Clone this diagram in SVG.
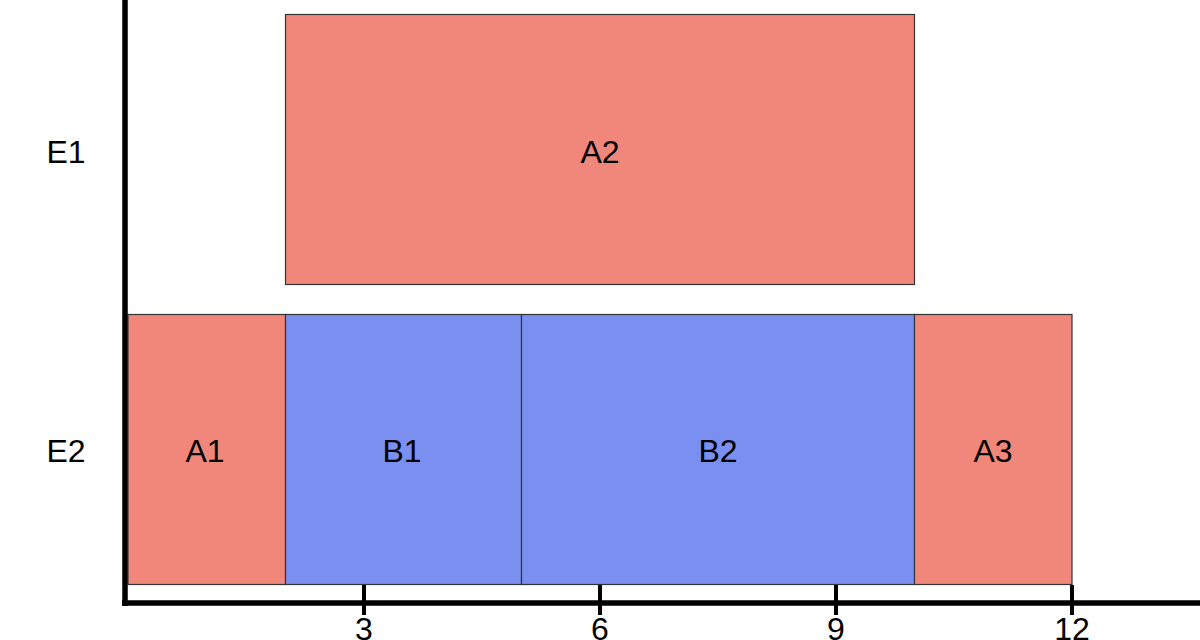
<svg xmlns="http://www.w3.org/2000/svg" width="1200" height="640" viewBox="0 0 1200 640">
<style>
.a{fill:#f1877a;stroke:#333;stroke-width:1.2}
.b{fill:#7a8ff0;stroke:#333;stroke-width:1.2}
.t{font-family:"Liberation Sans",Arial,sans-serif;font-size:32px;fill:#000;text-anchor:middle}
.ax{stroke:#000;stroke-width:5.5;fill:none}
.tk{stroke:#000;stroke-width:4;fill:none}
</style>
<rect width="1200" height="640" fill="#fff"/>
<g id="A2"><rect class="a" x="285.5" y="14.5" width="629" height="270"/><text class="t" x="600" y="163">A2</text></g>
<g id="A1"><rect class="a" x="128" y="314.5" width="157.5" height="270"/><text class="t" x="205" y="462">A1</text></g>
<g id="B1"><rect class="b" x="285.5" y="314.5" width="236" height="270"/><text class="t" x="402" y="462">B1</text></g>
<g id="B2"><rect class="b" x="521.5" y="314.5" width="393" height="270"/><text class="t" x="718" y="462">B2</text></g>
<g id="A3"><rect class="a" x="914.5" y="314.5" width="157.5" height="270"/><text class="t" x="993" y="462">A3</text></g>
<g id="axes">
<line class="ax" x1="125" y1="0" x2="125" y2="606"/>
<line class="ax" x1="122" y1="603" x2="1200" y2="603"/>
<line class="tk" x1="364" y1="585" x2="364" y2="615"/>
<line class="tk" x1="600" y1="585" x2="600" y2="615"/>
<line class="tk" x1="836" y1="585" x2="836" y2="615"/>
<line class="tk" x1="1072" y1="585" x2="1072" y2="615"/>
</g>
<g id="labels">
<text class="t" x="66" y="163">E1</text>
<text class="t" x="66" y="462">E2</text>
<text class="t" x="364" y="640">3</text>
<text class="t" x="600" y="640">6</text>
<text class="t" x="836" y="640">9</text>
<text class="t" x="1072" y="640">12</text>
</g>
</svg>
